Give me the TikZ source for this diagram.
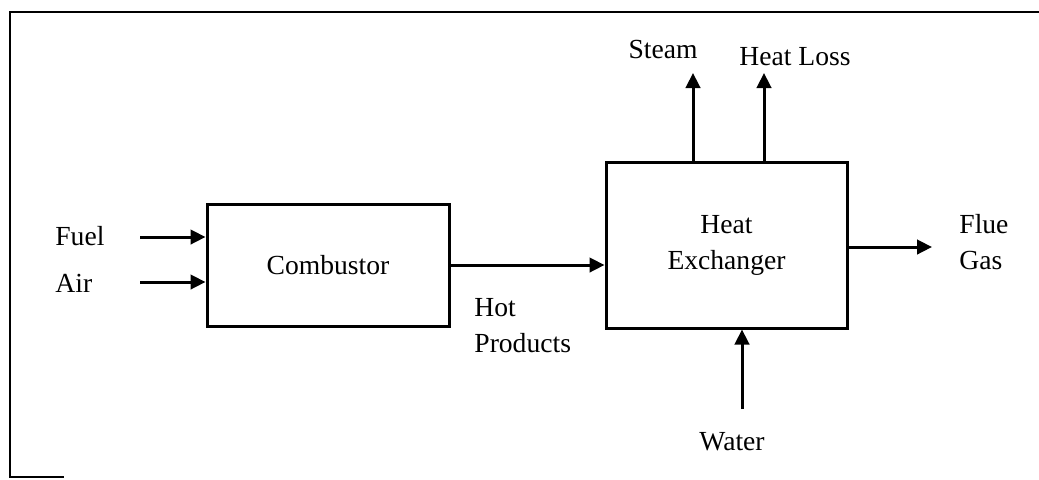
\documentclass[tikz,border=0pt]{standalone}
\usepackage{fontspec}
\setmainfont{Liberation Serif}
\usetikzlibrary{arrows.meta}
\tikzset{
  blk/.style={draw, line width=1.5pt, inner sep=0pt, align=center},
  flow/.style={line width=1.5pt, -{Triangle[length=7.5pt,width=7.2pt]}},
  lbl/.style={inner sep=0pt, align=left},
  frameline/.style={line width=1.2pt, line cap=rect}
}
\begin{document}
\begin{tikzpicture}[x=0.5pt,y=-0.5pt,font=\fontsize{13.8}{18}\selectfont]
\useasboundingbox (0,0) rectangle (1039,479);
% frame
\coordinate (fTR) at (1039,12);
\coordinate (fTL) at (10,12);
\coordinate (fBL) at (10,477);
\coordinate (fBR) at (63,477);
\draw[frameline] (fTR) -- (fTL) -- (fBL) -- (fBR);
% blocks
\node[blk, minimum width=121pt, minimum height=61pt] (comb) at (328,265) {Combustor};
\node[blk, minimum width=120.5pt, minimum height=83pt] (hx) at (726.5,245) {Heat\\Exchanger};
% inputs
\coordinate (fuelS) at (140,237);
\coordinate (airS) at (140,282);
\draw[flow] (fuelS) -- (fuelS -| comb.west);
\draw[flow] (airS) -- (airS -| comb.west);
\node[lbl, anchor=base west] (fuel) at (55,245) {Fuel};
\node[lbl, anchor=base west] (air) at (55,292) {Air};
% hot products
\draw[flow] (comb.east) -- (comb.east -| hx.west);
\node[lbl, anchor=north west] (hot) at (474,298) {Hot\\Products};
% steam and heat loss
\coordinate (steamE) at (693,73);
\coordinate (lossE) at (764,73);
\draw[flow] (steamE |- hx.north) -- (steamE);
\draw[flow] (lossE |- hx.north) -- (lossE);
\node[lbl, anchor=base] (steam) at (663,58) {Steam};
\node[lbl, anchor=base] (loss) at (795,65) {Heat Loss};
% flue gas
\coordinate (flueE) at (932,247);
\draw[flow] (flueE -| hx.east) -- (flueE);
\node[lbl, anchor=north west] (flue) at (959,214) {Flue\\Gas};
% water
\coordinate (waterS) at (742,409);
\draw[flow] (waterS) -- (waterS |- hx.south);
\node[lbl, anchor=base] (water) at (732,450) {Water};
\end{tikzpicture}
\end{document}
